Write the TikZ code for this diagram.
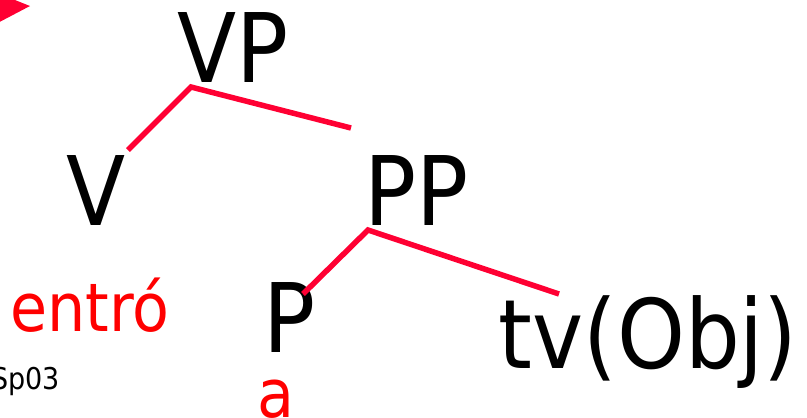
\documentclass[tikz,border=0pt]{standalone}
\usepackage{fontspec}
\setmainfont{DejaVu Sans}[FakeStretch=0.9]
\definecolor{linered}{RGB}{255,0,51}
\definecolor{textred}{RGB}{255,0,0}
\tikzset{
  lbl/.style={inner sep=0pt, anchor=base, font=\fontsize{96}{96}\selectfont, text=black},
  word/.style={inner sep=0pt, anchor=base, font=\fontsize{67}{67}\selectfont, text=textred},
  branch/.style={draw=linered, line width=5.5pt, line cap=butt, line join=miter}
}
\begin{document}
\begin{tikzpicture}[x=1pt,y=-1pt]
\useasboundingbox (0,0) rectangle (807,418);
\clip (0,0) rectangle (807,418);
\fill[linered] (-10,-10) -- (30,6) -- (-10,27) -- cycle;
\node[lbl] (vp) at (233,82) {VP};
\node[lbl] (v) at (96,225) {V};
\node[lbl] (pp) at (417,225) {PP};
\node[lbl] (p) at (290,352) {P};
\node[lbl] (obj) at (648,368) {tv(Obj)};
\node[word] (entro) at (90,331) {entró};
\node[word] (a) at (276,417) {a};
\node[inner sep=0pt, anchor=base east, font=\fontsize{30}{30}\selectfont] (sp) at (60,389) {Sp03};
\coordinate (vpa) at (191,87);
\coordinate (vl) at (128,150);
\coordinate (vr) at (351,128);
\coordinate (ppa) at (368,230);
\coordinate (pl) at (303,294);
\coordinate (pr) at (559,294);
\draw[branch] (vl) -- (vpa) -- (vr);
\draw[branch] (pl) -- (ppa) -- (pr);
\end{tikzpicture}
\end{document}
